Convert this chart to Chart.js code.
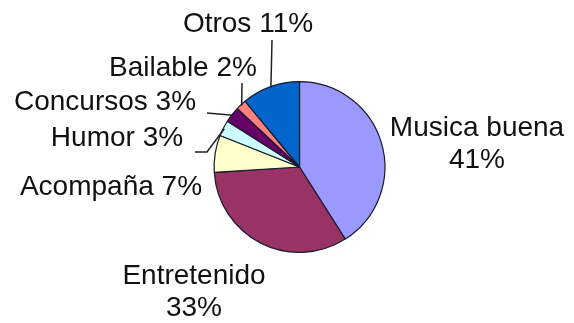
<!DOCTYPE html>
<html>
<head>
<meta charset="utf-8">
<script src="https://cdn.jsdelivr.net/npm/chart.js@4/dist/chart.umd.min.js"></script>
<style>
    html, body { margin: 0; padding: 0; background: #fff; }
    #wrap { width: 574px; height: 323px; }
</style>
</head>
<body>
<div id="wrap"><canvas id="pieGustos" width="574" height="323"></canvas></div>
<script>
    var categories = ['Musica buena', 'Entretenido', 'Acompaña', 'Humor', 'Concursos', 'Bailable', 'Otros'];
    var percents = [41, 33, 7, 3, 3, 2, 11];
    var sliceColors = ['#9999FF', '#993366', '#FFFFCC', '#CCFFFF', '#660066', '#FF8080', '#0066CC'];

    // where each label sits, and whether it wraps onto two lines
    var labelLayout = [
        { x: 477, y: 128, twoLines: true },
        { x: 194, y: 276, twoLines: true },
        { x: 111, y: 187 },
        { x: 117, y: 138 },
        { x: 105, y: 102 },
        { x: 183, y: 68 },
        { x: 248, y: 24 }
    ];
    // leader line start points, drawn towards the slice edge
    var leaders = [null, null, null, [[195, 152], [207, 152]], [[207, 113]], [[242, 83]], [[272, 40]]];

    var pieLabels = {
        id: 'pieLabels',
        afterDatasetsDraw: function (chart) {
            var ctx = chart.ctx;
            var arcs = chart.getDatasetMeta(0).data;
            ctx.save();
            ctx.font = '28px "Liberation Sans", Arial, sans-serif';
            ctx.fillStyle = '#111';
            ctx.textAlign = 'center';
            ctx.textBaseline = 'middle';
            arcs.forEach(function (arc, i) {
                var p = arc.getProps(['x', 'y', 'startAngle', 'endAngle', 'outerRadius'], true);
                var mid = (p.startAngle + p.endAngle) / 2;
                var pos = labelLayout[i];
                if (pos.twoLines) {
                    ctx.fillText(categories[i], pos.x, pos.y);
                    ctx.fillText(percents[i] + '%', pos.x, pos.y + 32);
                } else {
                    ctx.fillText(categories[i] + ' ' + percents[i] + '%', pos.x, pos.y);
                }
                if (leaders[i]) {
                    ctx.beginPath();
                    ctx.strokeStyle = '#222';
                    ctx.lineWidth = 1.5;
                    ctx.moveTo(leaders[i][0][0], leaders[i][0][1]);
                    for (var k = 1; k < leaders[i].length; k++) {
                        ctx.lineTo(leaders[i][k][0], leaders[i][k][1]);
                    }
                    ctx.lineTo(p.x + Math.cos(mid) * (p.outerRadius - 1), p.y + Math.sin(mid) * (p.outerRadius - 1));
                    ctx.stroke();
                }
            });
            ctx.restore();
        }
    };

    new Chart(document.getElementById('pieGustos'), {
        type: 'pie',
        data: {
            labels: categories,
            datasets: [{
                data: percents,
                backgroundColor: sliceColors,
                borderColor: '#1a1a2e',
                borderWidth: 1.2
            }]
        },
        options: {
            responsive: false,
            animation: false,
            layout: {
                padding: { left: 213, right: 188, top: 81, bottom: 70 }
            },
            plugins: {
                legend: { display: false },
                tooltip: { enabled: false }
            }
        },
        plugins: [pieLabels]
    });
</script>
</body>
</html>
